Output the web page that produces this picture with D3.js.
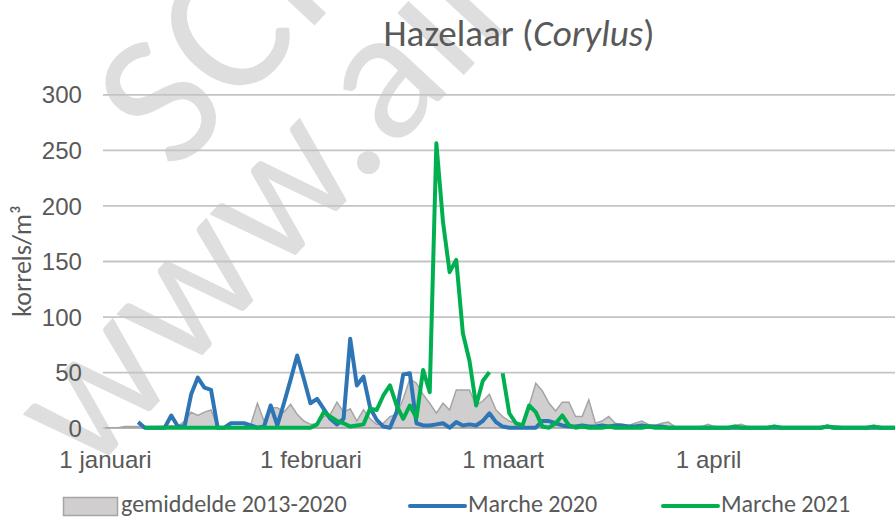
<!DOCTYPE html>
<html>
<head>
<meta charset="utf-8">
<script src="https://cdn.jsdelivr.net/npm/d3@7/dist/d3.min.js"></script>
<style>
    html, body { margin: 0; padding: 0; background: #fff; }
    svg { display: block; font-family: Carlito, Calibri, Lato, sans-serif; }
</style>
</head>
<body>
<div id="chart"></div>
<script>
// day 0 = 1 januari (leap-year axis, so day 59 = 29 feb)
const chartTitle = "Hazelaar";
const chartTitleLatin = "Corylus";
const yLabel = "korrels/m³";
const yTicks = [0, 50, 100, 150, 200, 250, 300];
const xTickDays = [0, 31, 60, 91];
const xTickLabels = ["1 januari", "1 februari", "1 maart", "1 april"];
const seriesNames = ["gemiddelde 2013-2020", "Marche 2020", "Marche 2021"];

// gemiddelde 2013-2020
const meanValues = [
    0, 0, 0, 1, 1, 1, 0, 0, 1, 1,
    2, 1, 6, 14, 11, 14, 16, 1, 0, 0,
    0, 1, 3, 22, 6, 18, 18, 14, 21, 12,
    6, 3, 3, 10, 12, 23, 14, 17, 6, 16,
    8, 3, 4, 10, 12, 26, 44, 40, 30, 22,
    13, 22, 16, 34, 34, 34, 20, 24, 30, 16,
    10, 6, 4, 3, 20, 40, 33, 22, 15, 23,
    23, 10, 10, 25, 4, 6, 10, 4, 3, 2,
    4, 6, 3, 2, 4, 5, 1, 0, 0, 0,
    1, 3, 1, 0, 0, 2, 3, 1, 0, 0,
    1, 2, 1, 0, 0, 0, 0, 0, 1, 1,
    2, 1, 0, 0, 0, 1, 2, 1, 0, 0,
    0, 0
];

// Marche 2020
const values2020 = [
    null, null, null, null, null, 5, 0, 0, 0, 0,
    11, 1, 1, 30, 45, 36, 34, 0, 0, 4,
    4, 4, 2, 0, 1, 20, 2, 22, 43, 65,
    44, 22, 26, 17, 8, 3, 8, 80, 38, 46,
    18, 7, 1, 0, 14, 48, 49, 4, 2, 2,
    3, 4, 0, 5, 2, 3, 2, 6, 13, 5,
    1, 0, 0, 0, 0, 0, 6, 6, 4, 2,
    1, 1, 2, 1, 1, 2, 1, 2, 2, 1,
    1, 2, 1, 1, 1, 0, 0, 0, 0, 0,
    0, 0, 0, 0, 0, 0, 0, 0, 0, 0,
    0, 0, 0, 0, 0, 0, 0, 0, 0, 1,
    0, 0, 0, 0, 0, 0, 0, 0, 0, 0,
    0, 0
];

// Marche 2021 (no 29 feb)
const values2021 = [
    null, null, null, null, null, null, 0, 0, 0, 0,
    0, 0, 0, 0, 0, 0, 0, 0, 0, 0,
    0, 0, 0, 0, 0, 0, 0, 0, 0, 0,
    0, 0, 3, 14, 10, 6, 4, 1, 2, 3,
    17, 16, 29, 38, 20, 8, 20, 9, 52, 32,
    256, 185, 140, 151, 85, 60, 20, 42, 50, null,
    49, 13, 4, 2, 20, 14, 1, 0, 4, 11,
    2, 0, 1, 0, 0, 0, 1, 0, 0, 0,
    0, 0, 1, 0, 0, 0, 0, 0, 0, 0,
    0, 0, 0, 0, 0, 1, 0, 0, 0, 0,
    0, 1, 0, 0, 0, 0, 0, 0, 0, 1,
    0, 0, 0, 0, 0, 0, 1, 0, 0, 0,
    0, 0
];

const width = 895, height = 517;
const colors = { mean: "#d0cece", meanLine: "#a5a5a5", blue: "#2e75b6", green: "#00b050", text: "#595959", grid: "#c4c4c4", mark: "#dedede" };

const svg = d3.select("#chart").append("svg")
    .attr("width", width)
    .attr("height", height);

// work out a font scale so the substitute font takes Calibri's widths
let probe = svg.append("text").attr("font-size", 100).text("Marche 2020");
let k = 538.3 / probe.node().getComputedTextLength();
probe.remove();
const fs = s => s * k;

// watermark
svg.append("text")
    .attr("x", 175).attr("y", 175)
    .attr("transform", "rotate(-47,175,175)")
    .attr("font-size", fs(190))
    .attr("fill", colors.mark)
    .text("SCIENSANO");
svg.append("text")
    .attr("x", 88).attr("y", 478)
    .attr("transform", "rotate(-47,88,478)")
    .attr("font-size", fs(190))
    .attr("fill", colors.mark)
    .text("www.airallergy.be");

const x = d3.scaleLinear().domain([-0.3, 119.2]).range([103, 895]);
const y = d3.scaleLinear().domain([0, 300]).range([427.7, 94.3]);

// y axis + gridlines
const yAxis = svg.append("g")
    .attr("transform", "translate(103,0)")
    .call(d3.axisLeft(y).tickValues(yTicks).tickSize(-(895 - 103)).tickPadding(21));
yAxis.select(".domain").remove();
yAxis.selectAll(".tick line").attr("stroke", colors.grid).attr("stroke-width", 1.8);
yAxis.selectAll(".tick text")
    .attr("fill", colors.text)
    .attr("font-size", fs(24))
    .attr("font-family", null)
    .attr("dy", "0.36em");

// x axis labels
const xAxis = svg.append("g")
    .attr("transform", "translate(0,427.7)")
    .call(d3.axisBottom(x).tickValues(xTickDays).tickFormat((d, i) => xTickLabels[i]).tickSize(0).tickPadding(0));
xAxis.select(".domain").remove();
xAxis.selectAll(".tick text")
    .attr("fill", colors.text)
    .attr("font-size", fs(24))
    .attr("font-family", null)
    .attr("y", 40.5)
    .attr("dy", null);

const plot = svg.append("g");

const area = d3.area()
    .x((d, i) => x(i))
    .y0(y(0))
    .y1(d => y(d));
plot.append("path")
    .datum(meanValues)
    .attr("d", area)
    .attr("fill", colors.mean)
    .attr("stroke", colors.meanLine)
    .attr("stroke-width", 1.5);

const line = d3.line()
    .defined(d => d != null)
    .x((d, i) => x(i))
    .y(d => y(d));

plot.append("path")
    .datum(values2020)
    .attr("d", line)
    .attr("fill", "none")
    .attr("stroke", colors.blue)
    .attr("stroke-width", 4)
    .attr("stroke-linejoin", "round");

plot.append("path")
    .datum(values2021)
    .attr("d", line)
    .attr("fill", "none")
    .attr("stroke", colors.green)
    .attr("stroke-width", 4)
    .attr("stroke-linejoin", "round");

// title
const title = svg.append("text")
    .attr("x", 519).attr("y", 46)
    .attr("text-anchor", "middle")
    .attr("font-size", fs(37))
    .attr("fill", colors.text);
title.append("tspan").text(chartTitle + " (");
title.append("tspan").attr("font-style", "italic").text(chartTitleLatin);
title.append("tspan").text(")");

// y axis title
svg.append("text")
    .attr("transform", "translate(22,261) rotate(-90)")
    .attr("text-anchor", "middle")
    .attr("dy", "0.35em")
    .attr("font-size", fs(26))
    .attr("fill", colors.text)
    .text(yLabel);

// legend
const legend = svg.append("g").attr("font-size", fs(24)).attr("fill", colors.text);
legend.append("rect")
    .attr("x", 63.5).attr("y", 497.5).attr("width", 54).attr("height", 18)
    .attr("fill", colors.mean).attr("stroke", colors.meanLine).attr("stroke-width", 1.5);
legend.append("text").attr("x", 121).attr("y", 512).text(seriesNames[0]);

[[410, colors.blue, seriesNames[1]], [663, colors.green, seriesNames[2]]].forEach(([lx, c, name]) => {
    legend.append("line")
        .attr("x1", lx).attr("x2", lx + 55).attr("y1", 506).attr("y2", 506)
        .attr("stroke", c).attr("stroke-width", 4).attr("stroke-linecap", "round");
    legend.append("text").attr("x", lx + 58).attr("y", 512).text(name);
});
</script>
</body>
</html>
